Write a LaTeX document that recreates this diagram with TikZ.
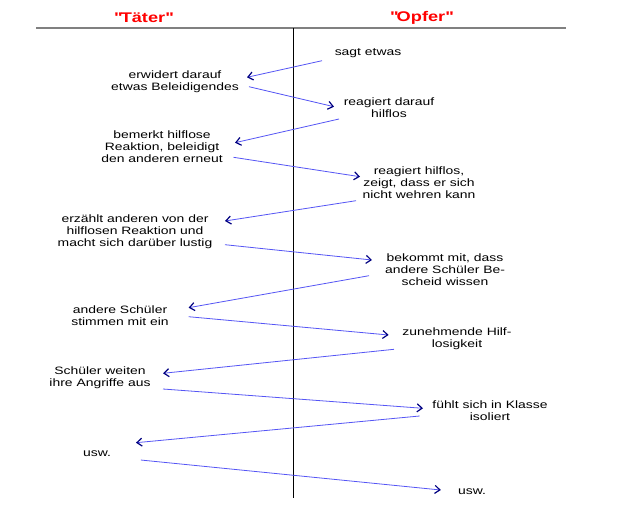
\documentclass[tikz,border=0pt]{standalone}
\usepackage{fontspec}
\setmainfont{Liberation Sans}[FakeStretch=1.3]
\usetikzlibrary{arrows.meta}
\definecolor{pfeilblau}{RGB}{85,85,245}
\definecolor{spitze}{RGB}{0,0,128}
\definecolor{titelrot}{RGB}{255,0,0}
\definecolor{strich}{RGB}{128,128,128}

\begin{document}
\begin{tikzpicture}[x=1pt,y=-1pt,
  titel/.style={font=\fontsize{14}{16}\selectfont\bfseries, text=titelrot, inner sep=0pt},
  txt/.style={font=\fontsize{10.7}{12}\selectfont, align=center, inner sep=0pt},
  pfeil/.style={pfeilblau, line width=0.8pt,
    -{Straight Barb[length=5pt,width=8pt,color=spitze,line width=1.2pt]}}]
  \fill[white] (0,0) rectangle (640,512);
  \useasboundingbox (0,0) rectangle (640,512);

  % Kopfzeile
  \node[titel] (taeter) at (143,18) {\textquotedbl Täter\textquotedbl};
  \node[titel] (opfer) at (421,18) {\textquotedbl Opfer\textquotedbl};
  \coordinate (kl) at (36,28);
  \coordinate (kr) at (566,28);
  \coordinate (mo) at (293.5,28);
  \coordinate (mu) at (293.5,498);
  \draw[strich, line width=1.4pt] (kl) -- (kr);
  \draw[black, line width=0.7pt] (mo) -- (mu);

  % Taeter
  \node[txt] (t1) at (175,81.5) {erwidert darauf\\etwas Beleidigendes};
  \node[txt] (t2) at (162,146.5) {bemerkt hilflose\\Reaktion, beleidigt\\den anderen erneut};
  \node[txt] (t3) at (135,231.3) {erzählt anderen von der\\hilflosen Reaktion und\\macht sich darüber lustig};
  \node[txt] (t4) at (120,315.5) {andere Schüler\\stimmen mit ein};
  \node[txt] (t5) at (100,378) {Schüler weiten\\ihre Angriffe aus};
  \node[txt] (t6) at (97,453.3) {usw.};

  % Opfer
  \node[txt] (o1) at (368,53) {sagt etwas};
  \node[txt] (o2) at (389,108) {reagiert darauf\\hilflos};
  \node[txt] (o3) at (419,183) {reagiert hilflos,\\zeigt, dass er sich\\nicht wehren kann};
  \node[txt] (o4) at (445,269.7) {bekommt mit, dass\\andere Schüler Be-\\scheid wissen};
  \node[txt] (o5) at (457,339) {zunehmende Hilf-\\losigkeit};
  \node[txt] (o6) at (490,410.7) {fühlt sich in Klasse\\isoliert};
  \node[txt] (o7) at (472,491.7) {usw.};

  % Pfeile hin und her
  \foreach \n/\xs/\ys/\xe/\ye in
    {1/322/60.7/247/77.3,
     2/249/86.7/334/106.7,
     3/339/119/235/142.7,
     4/233.5/157.3/360/176.7,
     5/356/200.7/225/221,
     6/225/244.7/372/260,
     7/369/275.7/188.6/307.7,
     8/188.6/316.7/388.6/335,
     9/394/349.3/163/373.3,
     10/163/389/423/408.3,
     11/419.6/416/136/442.7,
     12/140.8/460/440.8/490}
  {
    \coordinate (s\n) at (\xs,\ys);
    \coordinate (e\n) at (\xe,\ye);
    \draw[pfeil] (s\n) -- (e\n);
  }
\end{tikzpicture}
\end{document}
